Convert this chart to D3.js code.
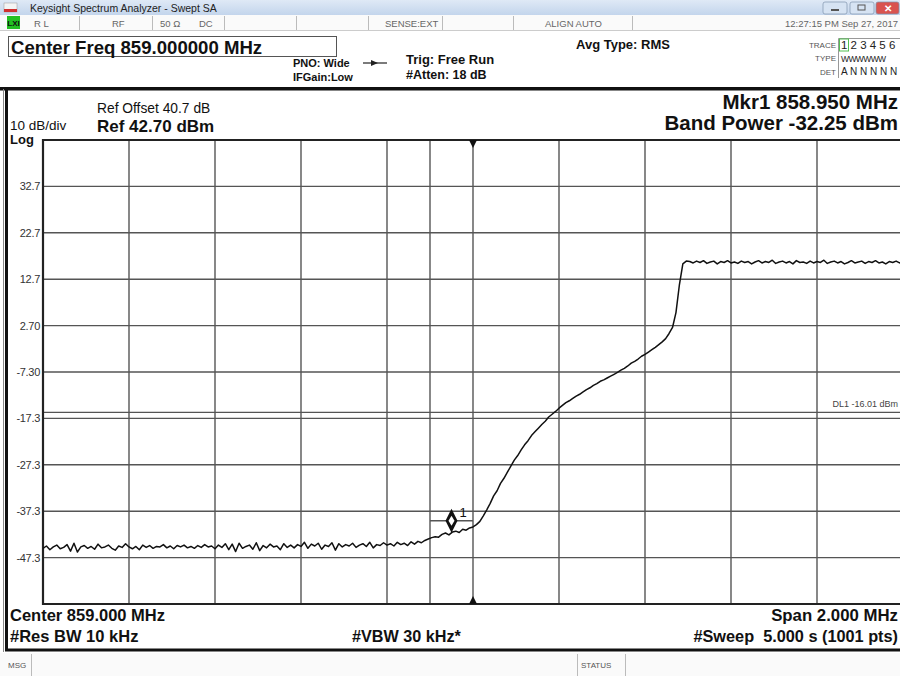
<!DOCTYPE html>
<html><head><meta charset="utf-8">
<script src="https://cdn.jsdelivr.net/npm/d3@7"></script>
<style>
html,body{margin:0;padding:0;background:#fff;}
svg{display:block;font-family:"Liberation Sans",Arial,sans-serif;}
</style></head>
<body>
<svg id="c" width="900" height="676"></svg>
<script>
// ---------------- data ----------------
const startFreqMHz = 858.0;
const stopFreqMHz = 860.0;
const freqStepMHz = 0.008;             // every 4th of 1001 sweep points
const yTickValues = [32.7, 22.7, 12.7, 2.7, -7.3, -17.3, -27.3, -37.3, -47.3];
const yTickLabels = ["32.7", "22.7", "12.7", "2.70", "-7.30", "-17.3", "-27.3", "-37.3", "-47.3"];
const refLevel = 42.7;
const bottomLevel = -57.3;
const displayLine = -16.01;
const markerFreq = 858.950;
const bandStart = 858.900;
const bandStop = 859.000;
const noiseFloor = [
 -45.3,-44.8,-45.6,-45.0,-44.6,-45.4,-45.1,-44.5,-45.9,-44.2,-46.1,-45.0,-44.7,-45.3,-44.9,-45.5,-44.4,-45.2,-45.0,-44.6,
 -45.3,-45.7,-44.8,-45.1,-44.3,-45.0,-45.4,-44.9,-45.6,-44.6,-45.1,-44.7,-45.3,-44.9,-45.0,-44.5,-45.2,-44.8,-45.4,-44.7,
 -45.0,-44.6,-45.2,-44.9,-45.3,-44.7,-45.1,-44.5,-45.0,-44.8,-45.4,-44.6,-45.1,-44.3,-45.6,-44.4,-46.0,-44.2,-45.3,-44.9,
 -44.6,-45.5,-44.1,-45.8,-44.7,-45.2,-44.4,-45.0,-44.8,-45.6,-44.3,-45.1,-44.6,-45.2,-44.5,-44.9,-44.0,-45.3,-44.4,-44.8,
 -44.2,-45.5,-44.6,-44.9,-44.1,-45.7,-44.3,-45.0,-44.5,-44.8,-44.2,-45.1,-44.6,-44.3,-44.9,-44.0,-45.2,-44.5,-44.7,-44.1,
 -44.6,-44.3,-44.8,-44.0,-44.5,-44.2,-44.7,-43.9,-44.4,-43.8,-44.1,-43.6,-43.3
];
const rollOff = [
 -43.0,-42.8,-42.9,-42.3,-42.0,-42.4,-41.8,-41.6,-41.9,-41.2,
 -41.4,-40.9,-40.7,-40.2,-39.5,-38.3,-37.0,-35.6,-34.0,-32.9,
 -31.3,-30.2,-28.9,-27.6,-26.3,-25.3,-24.1,-23.0,-22.1,-21.0,
 -20.2,-19.4,-18.6,-17.9,-17.0,-16.4,-15.8,-15.1,-14.5,-13.9,
 -13.5,-13.0,-12.5,-12.1,-11.6,-11.1,-10.7,-10.2,-9.8,-9.3,
 -9.0,-8.6,-8.2,-7.8,-7.4,-6.9,-6.5,-6.0,-5.4,-5.0,
 -4.5,-3.9,-3.5,-3.0,-2.5,-2.0,-1.4,-0.8,-0.1,1.0,
 2.3,5.5,11.5,16.0,16.6
];
const passBand = [
 16.5,16.2,16.6,16.3,16.7,16.1,16.4,16.6,16.0,16.5,
 16.3,16.7,16.2,16.4,16.1,16.6,16.3,16.5,16.0,16.4,
 16.7,16.2,16.5,16.3,16.8,16.1,16.4,16.6,16.2,16.5,
 16.0,16.7,16.3,16.4,16.1,16.6,16.2,16.5,16.3,16.8,
 16.1,16.4,16.6,16.2,16.5,16.0,16.3,16.7,16.2,16.4,
 16.6,16.1,16.5,16.3,16.7,16.2,16.4,16.0,16.5,16.3,
 16.6,16.2,16.4
];
const traceValues = noiseFloor.concat(rollOff, passBand);
const trace = traceValues.map((v, i) => ({f: startFreqMHz + i * freqStepMHz, v}));

// ---------------- drawing ----------------
const svg = d3.select("#c");
const L = 43, R = 903, T = 140, B = 604;
const x = d3.scaleLinear().domain([startFreqMHz, stopFreqMHz]).range([L, R]);
const y = d3.scaleLinear().domain([bottomLevel, refLevel]).range([B, T]);

// title bar
const grad = svg.append("defs").append("linearGradient").attr("id","tb").attr("x1",0).attr("x2",0).attr("y1",0).attr("y2",1);
grad.append("stop").attr("offset","0").attr("stop-color","#dfe9f6");
grad.append("stop").attr("offset","1").attr("stop-color","#c3d5ec");
svg.append("rect").attr("x",0).attr("y",0).attr("width",900).attr("height",15).attr("fill","url(#tb)");
svg.append("rect").attr("x",4).attr("y",3).attr("width",13).attr("height",9).attr("fill","#f4f4f4").attr("stroke","#999").attr("stroke-width",0.5);
svg.append("rect").attr("x",4).attr("y",9).attr("width",13).attr("height",3).attr("fill","#d03030");
svg.append("text").attr("x",30).attr("y",11.5).attr("font-size",10.5).attr("fill","#222").text("Keysight Spectrum Analyzer - Swept SA");
[[823,847,"#d6e3f3"],[850,874,"#d6e3f3"],[876,899,"#d9534f"]].forEach(([a,b,c])=>{
  svg.append("rect").attr("x",a).attr("y",2).attr("width",b-a).attr("height",12).attr("rx",2).attr("fill",c).attr("stroke","#7f93ad").attr("stroke-width",0.7);
});
svg.append("rect").attr("x",831).attr("y",9).attr("width",8).attr("height",2).attr("fill","#555");
svg.append("rect").attr("x",858).attr("y",5).attr("width",7).attr("height",5).attr("fill","none").attr("stroke","#555").attr("stroke-width",1);
svg.append("text").attr("x",887.5).attr("y",12).attr("text-anchor","middle").attr("font-size",10).attr("font-weight","bold").attr("fill","#fff").text("✕");

// status row
svg.append("rect").attr("x",0).attr("y",15).attr("width",900).attr("height",16).attr("fill","#fafafa");
svg.append("line").attr("x1",0).attr("x2",900).attr("y1",30.5).attr("y2",30.5).attr("stroke","#ccc");
svg.append("rect").attr("x",7).attr("y",16).attr("width",13).attr("height",13).attr("fill","#22c022");
svg.append("text").attr("x",13.5).attr("y",26).attr("text-anchor","middle").attr("font-size",8).attr("font-weight","bold").attr("fill","#111").text("LXI");
[79,152,224,296,368,442,513,632].forEach(s=>{
  svg.append("line").attr("x1",s+0.5).attr("x2",s+0.5).attr("y1",16).attr("y2",30).attr("stroke","#bbb");
});
const st = (tx,xx,anchor)=>svg.append("text").attr("x",xx).attr("y",27).attr("font-size",9.5).attr("fill","#666").attr("text-anchor",anchor||"start").text(tx);
st("R L",34); st("RF",112); st("50 Ω",160); st("DC",199); st("SENSE:EXT",385); st("ALIGN AUTO",545);
st("12:27:15 PM Sep 27, 2017",898,"end");

// center freq box
svg.append("rect").attr("x",8.5).attr("y",36.5).attr("width",328).attr("height",20).attr("fill","#fff").attr("stroke","#555").attr("stroke-width",1);
svg.append("text").attr("x",11).attr("y",53.5).attr("font-size",18.6).attr("font-weight","bold").attr("fill","#111").text("Center Freq 859.000000 MHz");

const bt = (tx,xx,yy,fs,anchor,w,col)=>svg.append("text").attr("x",xx).attr("y",yy).attr("font-size",fs).attr("font-weight",w||"bold").attr("fill",col||"#111").attr("text-anchor",anchor||"start").attr("xml:space","preserve").style("white-space","pre").text(tx);
bt("PNO: Wide",293,67,11); bt("IFGain:Low",293,81,11);
svg.append("line").attr("x1",363).attr("x2",387).attr("y1",63).attr("y2",63).attr("stroke","#222").attr("stroke-width",1.2);
svg.append("path").attr("d","M371,60 L378,63 L371,66 Z").attr("fill","#222");
bt("Trig: Free Run",406,64,13); bt("#Atten: 18 dB",406,79,12.5);
bt("Avg Type: RMS",576,49,13);
bt("TRACE",836,48,8,"end","normal","#555");
bt("TYPE",836,61,8,"end","normal","#555");
bt("DET",836,75,8,"end","normal","#555");
svg.append("path").attr("d","M900,38.5 H838.5 V78").attr("fill","none").attr("stroke","#999");
svg.append("rect").attr("x",839.5).attr("y",39).attr("width",9).attr("height",12).attr("fill","none").attr("stroke","#55c055");
bt("1 2 3 4 5 6",841,49,11.5,"start","normal","#222");
bt("WWWWWW",841,62,8.5,"start","normal","#222").attr("letter-spacing","-0.6");
bt("A N N N N N",841,75,10,"start","normal","#222");

// main panel
svg.append("rect").attr("x",0).attr("y",87).attr("width",900).attr("height",3.5).attr("fill","#111");
svg.append("rect").attr("x",6.5).attr("y",89).attr("width",900).attr("height",561).attr("fill","#fff").attr("stroke","#111").attr("stroke-width",3);
svg.append("line").attr("x1",3.5).attr("x2",3.5).attr("y1",89).attr("y2",652).attr("stroke","#888").attr("stroke-width",1);

bt("Ref Offset 40.7 dB",97,113,13.8,"start","normal");
bt("10 dB/div",10,130,13.5,"start","normal");
bt("Ref 42.70 dBm",97,132,17);
bt("Log",10,144,13,"start","bold");
bt("Mkr1 858.950 MHz",898,109,20.5,"end");
bt("Band Power -32.25 dBm",898,130,20.5,"end");

// grid
const gridCol = "#555";
const plot = svg.append("g");
svg.append("clipPath").attr("id","pc").append("rect").attr("x",L).attr("y",T).attr("width",R-L).attr("height",B-T);
const xTicks = d3.range(0, 11).map(k => startFreqMHz + k * 0.2);
plot.append("g").selectAll("line").data(xTicks).join("line")
  .attr("x1",d=>x(d)).attr("x2",d=>x(d)).attr("y1",T).attr("y2",B).attr("stroke",gridCol).attr("stroke-width",1.4);
plot.append("g").selectAll("line").data(yTickValues).join("line")
  .attr("x1",L).attr("x2",R).attr("y1",d=>y(d)).attr("y2",d=>y(d)).attr("stroke",gridCol).attr("stroke-width",1.4);
// display line
plot.append("line").attr("x1",L).attr("x2",R).attr("y1",y(displayLine)).attr("y2",y(displayLine)).attr("stroke",gridCol).attr("stroke-width",1.3);
bt("DL1 -16.01 dBm",898,y(displayLine)-5,9,"end","normal","#444");
// band power lines
plot.append("line").attr("x1",x(bandStart)).attr("x2",x(bandStart)).attr("y1",T).attr("y2",B).attr("stroke",gridCol).attr("stroke-width",1.4);

// frame
plot.append("path").attr("d",`M${R},${T} H${L} V${B} H${R}`).attr("fill","none").attr("stroke","#222").attr("stroke-width",2.2);

// y axis labels
const yAxis = d3.axisLeft(y).tickValues(yTickValues).tickSize(0).tickPadding(3)
  .tickFormat((d,i)=>yTickLabels[i]);
const ya = svg.append("g").attr("transform",`translate(${L},0)`).call(yAxis);
ya.select(".domain").remove();
ya.selectAll("text").attr("font-size",11).attr("fill","#333").attr("font-family","'Liberation Sans Narrow','Liberation Sans',Arial,sans-serif").attr("letter-spacing","-0.3");

// trace
const line = d3.line().x(d=>x(d.f)).y(d=>y(d.v));
svg.append("path").datum(trace).attr("clip-path","url(#pc)").attr("d",line)
  .attr("fill","none").attr("stroke","#111").attr("stroke-width",1.5).attr("stroke-linejoin","round");

// center triangles
const cx = x((startFreqMHz+stopFreqMHz)/2);
svg.append("path").attr("d",`M${cx-4},${T} L${cx+4},${T} L${cx},${T+8} Z`).attr("fill","#111");
svg.append("path").attr("d",`M${cx-4},${B} L${cx+4},${B} L${cx},${B-8} Z`).attr("fill","#111");

// marker
const mi = Math.round((markerFreq - startFreqMHz)/freqStepMHz);
const mv = d3.mean(traceValues.slice(mi-1, mi+2));
const mx = x(markerFreq), my = y(mv) - 12;
svg.append("line").attr("x1",x(bandStart)).attr("x2",x(bandStop)).attr("y1",my).attr("y2",my).attr("stroke",gridCol).attr("stroke-width",1.4);
svg.append("path").attr("d",`M${mx},${my-12} L${mx+6},${my} L${mx},${my+12} L${mx-6},${my} Z`).attr("fill","#111");
svg.append("path").attr("d",`M${mx},${my-5} L${mx+3},${my} L${mx},${my+5} L${mx-3},${my} Z`).attr("fill","#fff");
bt("1",mx+8,my-4,13,"start","normal","#111");

// bottom annotations
bt("Center 859.000 MHz",10,621,16.5);
bt("#Res BW 10 kHz",10,642,16.5);
bt("#VBW 30 kHz*",352,642,16.2);
bt("Span 2.000 MHz",898,621,16.8,"end");
bt("#Sweep  5.000 s (1001 pts)",898,642,16.3,"end");

// message row
svg.append("rect").attr("x",0).attr("y",653).attr("width",900).attr("height",23).attr("fill","#fafafa");
[31,577,625].forEach(s=>svg.append("line").attr("x1",s+0.5).attr("x2",s+0.5).attr("y1",654).attr("y2",676).attr("stroke","#bbb"));
bt("MSG",8,668,8,"start","normal","#555");
bt("STATUS",581,668,8,"start","normal","#555");
</script>
</body></html>
